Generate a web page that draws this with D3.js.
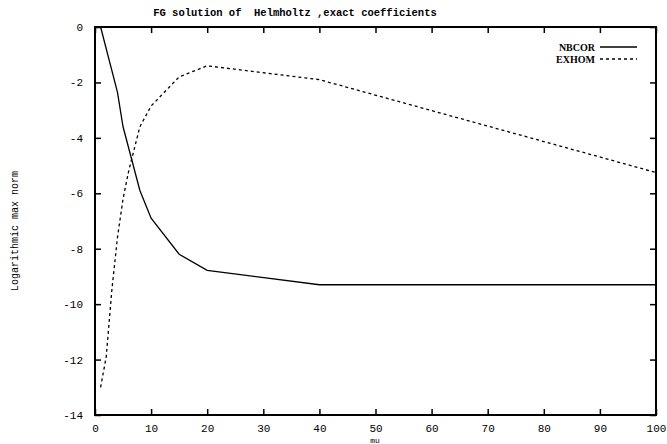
<!DOCTYPE html>
<html>
<head>
<meta charset="utf-8">
<script src="https://cdn.jsdelivr.net/npm/d3@7"></script>
<style>
  html, body { margin: 0; padding: 0; background: #fff; }
  svg { display: block; }
  text { white-space: pre; }
</style>
</head>
<body>
<svg id="chart" width="667" height="444"></svg>
<script>
const title = "FG solution of  Helmholtz ,exact coefficients";
const xLabel = "mu";
const yLabel = "Logarithmic max norm";
const xTicks = [0, 10, 20, 30, 40, 50, 60, 70, 80, 90, 100];
const yTicks = [0, -2, -4, -6, -8, -10, -12, -14];
const seriesNames = ["NBCOR", "EXHOM"];
const nbcorMu = [1, 4, 5, 8, 10, 15, 20, 40, 100];
const nbcorVal = [0, -2.35, -3.6, -5.9, -6.9, -8.2, -8.78, -9.3, -9.3];
const exhomMu = [1, 2, 3, 4, 5, 6, 8, 10, 15, 20, 40, 100];
const exhomVal = [-13, -11.9, -9.5, -7.6, -6.2, -5.2, -3.6, -2.85, -1.8, -1.4, -1.9, -5.25];

const svg = d3.select("#chart");
const L = 95, R = 656, T = 27, B = 415;
const x = d3.scaleLinear().domain([0, 100]).range([L, R]);
const y = d3.scaleLinear().domain([-14, 0]).range([B, T]);
const mono = "'Liberation Mono', 'DejaVu Sans Mono', monospace";

// frame
svg.append("rect").attr("x", L).attr("y", T).attr("width", R - L).attr("height", B - T)
  .attr("fill", "none").attr("stroke", "#000").attr("stroke-width", 2);

// axes, ticks inward
const xb = svg.append("g").attr("transform", `translate(0,${B})`)
  .call(d3.axisBottom(x).tickValues(xTicks).tickSize(-6).tickPadding(9).tickFormat(d3.format("d")));
const xt = svg.append("g").attr("transform", `translate(0,${T})`)
  .call(d3.axisTop(x).tickValues(xTicks).tickSize(-6).tickFormat(""));
const yl = svg.append("g").attr("transform", `translate(${L},0)`)
  .call(d3.axisLeft(y).tickValues(yTicks).tickSize(-6).tickPadding(12).tickFormat(d => d === 0 ? "0" : "-" + Math.abs(d)));
const yr = svg.append("g").attr("transform", `translate(${R},0)`)
  .call(d3.axisRight(y).tickValues(yTicks).tickSize(-6).tickFormat(""));
[xb, xt, yl, yr].forEach(g => {
  g.select(".domain").remove();
  g.selectAll(".tick line").attr("stroke", "#000").attr("stroke-width", 1.5);
  g.selectAll("text").attr("font-family", mono).attr("font-size", 11).attr("fill", "#000");
});

// lines
const line = d3.line().x(d => x(d[0])).y(d => y(d[1]));
const nb = nbcorMu.map((m, i) => [m, nbcorVal[i]]);
const ex = exhomMu.map((m, i) => [m, exhomVal[i]]);
svg.append("path").datum(nb).attr("d", line).attr("fill", "none")
  .attr("stroke", "#000").attr("stroke-width", 1.3);
svg.append("path").datum(ex).attr("d", line).attr("fill", "none")
  .attr("stroke", "#000").attr("stroke-width", 1.3).attr("stroke-dasharray", "3,3");

// title
svg.append("text").attr("x", 295).attr("y", 16).attr("text-anchor", "middle")
  .attr("font-family", mono).attr("font-size", 10.5).attr("font-weight", "bold")
  .attr("xml:space", "preserve").text(title);
// axis labels
svg.append("text").attr("x", 375).attr("y", 443).attr("text-anchor", "middle")
  .attr("font-family", mono).attr("font-size", 8).text(xLabel);
svg.append("text").attr("transform", "translate(18,231) rotate(-90)").attr("text-anchor", "middle")
  .attr("font-family", mono).attr("font-size", 10).text(yLabel);

// legend
const leg = svg.append("g");
seriesNames.forEach((n, i) => {
  const ly = 47 + i * 12;
  leg.append("text").attr("x", 595).attr("y", ly + 3.5).attr("text-anchor", "end")
    .attr("font-family", "'Liberation Serif', serif").attr("font-weight", "bold")
    .attr("font-size", 10).text(n);
  leg.append("line").attr("x1", 600).attr("x2", 637).attr("y1", ly).attr("y2", ly)
    .attr("stroke", "#000").attr("stroke-width", 1.3)
    .attr("stroke-dasharray", i === 1 ? "3,3" : null);
});
</script>
</body>
</html>
